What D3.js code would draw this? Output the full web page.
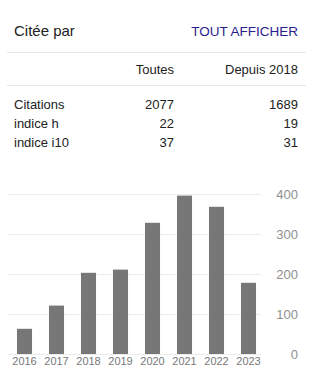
<!DOCTYPE html>
<html>
<head>
<meta charset="utf-8">
<script src="https://cdn.jsdelivr.net/npm/d3@7"></script>
<style>
  html, body { margin: 0; padding: 0; background: #fff; }
  svg { display: block; font-family: Arial, "Liberation Sans", sans-serif; }
</style>
</head>
<body>
<svg id="card" width="322" height="383"></svg>
<script>
// Citation summary
const columnHeaders = ["Toutes", "Depuis 2018"];
const metricNames = ["Citations", "indice h", "indice i10"];
const allTime = [2077, 22, 37];
const since2018 = [1689, 19, 31];

// Citations per year
const years = ["2016", "2017", "2018", "2019", "2020", "2021", "2022", "2023"];
const citations = [63, 121, 203, 211, 328, 396, 368, 178];
const yTicks = [0, 100, 200, 300, 400];

const svg = d3.select("#card");

// Header
svg.append("text").attr("x", 14).attr("y", 36)
  .attr("font-size", 15).attr("fill", "#222").text("Citée par");
svg.append("text").attr("x", 298).attr("y", 36).attr("text-anchor", "end")
  .attr("font-size", 13.5).attr("fill", "#2a1d90").text("TOUT AFFICHER");

svg.append("line").attr("x1", 7).attr("x2", 306).attr("y1", 52.5).attr("y2", 52.5)
  .attr("stroke", "#e6e6e6");

// Table
const colRight = [174, 298];
svg.selectAll("text.colhead").data(columnHeaders).join("text")
  .attr("class", "colhead")
  .attr("x", (d, i) => colRight[i]).attr("y", 73.5)
  .attr("text-anchor", "end").attr("font-size", 13).attr("fill", "#222")
  .text(d => d);

svg.append("line").attr("x1", 7).attr("x2", 306).attr("y1", 85.5).attr("y2", 85.5)
  .attr("stroke", "#e6e6e6");

const rowY = d3.scalePoint().domain(metricNames).range([108.5, 147.3]);
const rows = svg.selectAll("g.row").data(metricNames).join("g")
  .attr("class", "row")
  .attr("transform", d => `translate(0,${rowY(d)})`);
rows.append("text").attr("x", 14).attr("font-size", 13).attr("fill", "#222").text(d => d);
rows.append("text").attr("x", colRight[0]).attr("text-anchor", "end")
  .attr("font-size", 13).attr("fill", "#222").text((d, i) => allTime[i]);
rows.append("text").attr("x", colRight[1]).attr("text-anchor", "end")
  .attr("font-size", 13).attr("fill", "#222").text((d, i) => since2018[i]);

// Bar chart
const x = d3.scaleBand().domain(years).range([8.5, 264.5])
  .paddingInner(0.53).paddingOuter(0.265);
const y = d3.scaleLinear().domain([0, 400]).range([354, 194]);

const chart = svg.append("g");

chart.selectAll("line.grid").data(yTicks).join("line")
  .attr("class", "grid")
  .attr("x1", 7).attr("x2", 261)
  .attr("y1", d => Math.round(y(d)) + 0.5).attr("y2", d => Math.round(y(d)) + 0.5)
  .attr("stroke", "#ececec");

chart.selectAll("rect.bar").data(citations).join("rect")
  .attr("class", "bar")
  .attr("x", (d, i) => x(years[i]))
  .attr("width", x.bandwidth())
  .attr("y", d => y(d))
  .attr("height", d => y(0) - y(d))
  .attr("fill", "#777");

// Year axis
const xAxis = chart.append("g").attr("transform", `translate(0,${y(0)})`)
  .call(d3.axisBottom(x).tickSize(0).tickPadding(3));
xAxis.select(".domain").remove();
xAxis.selectAll("text").attr("font-size", 11).attr("fill", "#777")
  .attr("font-family", "Arial, 'Liberation Sans', sans-serif");

// Count axis on the right
const yAxis = chart.append("g").attr("transform", "translate(298,0)")
  .call(d3.axisLeft(y).tickValues(yTicks).tickSize(0).tickPadding(0));
yAxis.select(".domain").remove();
yAxis.selectAll("text").attr("font-size", 13).attr("fill", "#8f8f8f")
  .attr("font-family", "Arial, 'Liberation Sans', sans-serif");
</script>
</body>
</html>
